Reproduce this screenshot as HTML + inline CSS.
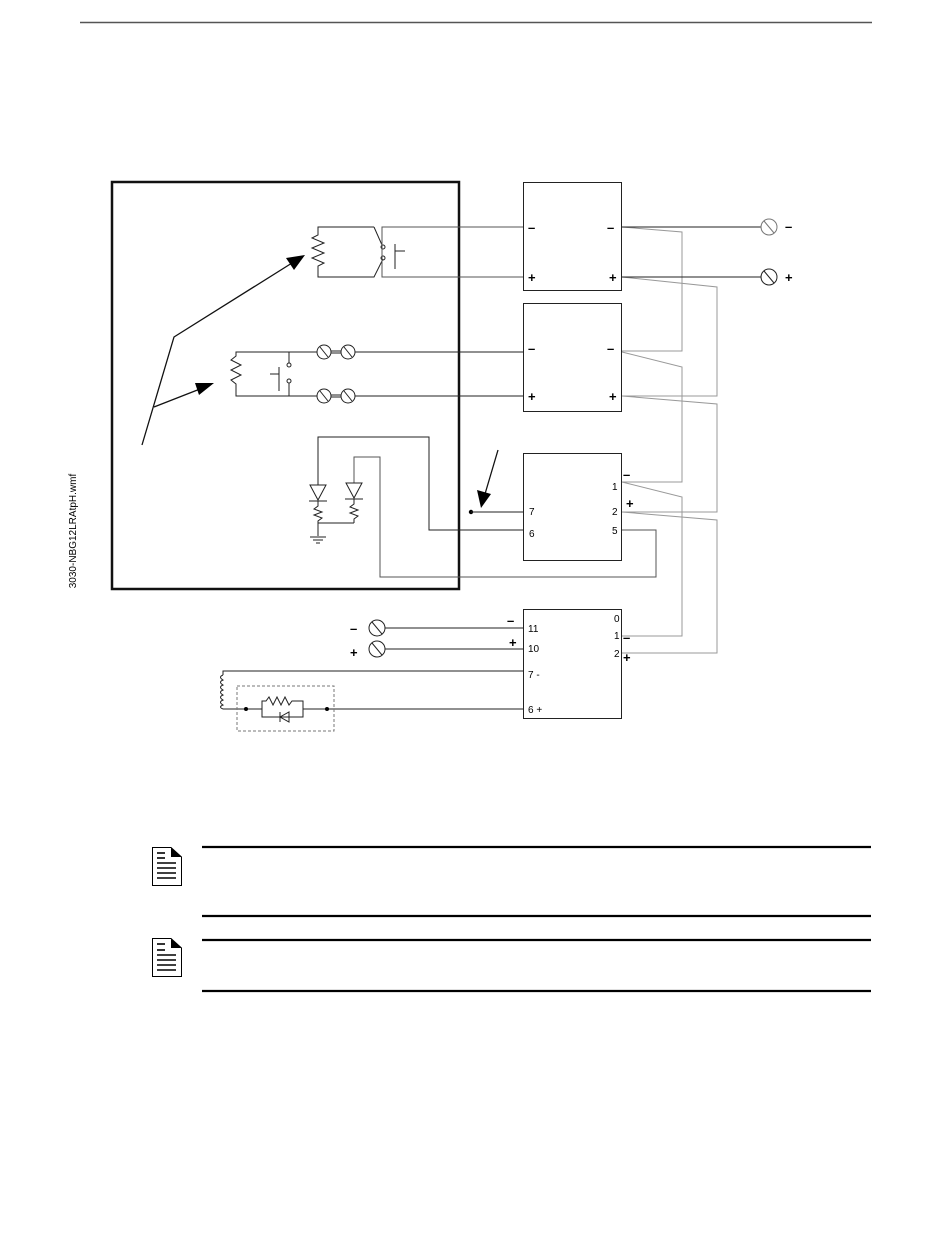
<!DOCTYPE html>
<html><head><meta charset="utf-8"><style>
html,body{margin:0;padding:0;background:#fff;}
svg{display:block;}
text{font-family:"Liberation Sans",sans-serif;fill:#000;}
</style></head><body>
<svg width="950" height="1254" viewBox="0 0 950 1254" xmlns="http://www.w3.org/2000/svg">
<line x1="80" y1="22.5" x2="872" y2="22.5" stroke="#555" stroke-width="1.5"/>
<text x="0" y="0" font-size="10" transform="translate(76,531) rotate(-90)" text-anchor="middle">3030-NBG12LRAtpH.wmf</text>

<!-- outer box -->
<rect x="112" y="182" width="347" height="407" fill="none" stroke="#111" stroke-width="2.5"/>

<g fill="none" stroke="#222" stroke-width="1">
<!-- relay circuit -->
<polyline points="374,227 318,227 318,235 312,238 324,243 312,248 324,253 312,258 324,263 318,266 318,277 374,277 383,259"/>
<line x1="374" y1="227" x2="382" y2="245"/>
<circle cx="383" cy="247" r="2"/><circle cx="383" cy="258" r="2"/>
<polyline points="523,227 382,227 382,277 523,277" stroke="#555"/>
<line x1="395" y1="244" x2="395" y2="269"/><line x1="395" y1="251" x2="405" y2="251"/>

<!-- second circuit -->
<polyline points="317,352 236,352 236,356 231,360 241,365 231,370 241,375 231,380 236,384 236,396 317,396"/>
<line x1="289" y1="352" x2="289" y2="363"/><line x1="289" y1="383" x2="289" y2="396"/>
<circle cx="289" cy="365" r="2"/><circle cx="289" cy="381" r="2"/>
<line x1="279" y1="367" x2="279" y2="391"/><line x1="270" y1="374" x2="279" y2="374"/>
<g>
<circle cx="324" cy="352" r="7"/><circle cx="348" cy="352" r="7"/>
<line x1="320" y1="347" x2="328" y2="357"/><line x1="344" y1="347" x2="352" y2="357"/>
<line x1="331" y1="351" x2="341" y2="351"/><line x1="331" y1="353" x2="341" y2="353"/>
<circle cx="324" cy="396" r="7"/><circle cx="348" cy="396" r="7"/>
<line x1="320" y1="391" x2="328" y2="401"/><line x1="344" y1="391" x2="352" y2="401"/>
<line x1="331" y1="395" x2="341" y2="395"/><line x1="331" y1="397" x2="341" y2="397"/>
</g>
<line x1="355" y1="352" x2="523" y2="352"/><line x1="355" y1="396" x2="523" y2="396"/>

<!-- LED circuit -->
<polyline points="318,485 318,437 429,437 429,530 523,530"/>
<polygon points="310,485 326,485 318,500"/><line x1="309" y1="501" x2="327" y2="501"/>
<polyline points="318,501 318,506 314,509 322,512 314,515 322,518 318,521 318,536"/>
<line x1="318" y1="523" x2="354" y2="523"/>
<line x1="310" y1="537" x2="326" y2="537"/><line x1="313" y1="540" x2="323" y2="540"/><line x1="316" y1="543" x2="320" y2="543"/>
<polyline points="354,483 354,457 380,457 380,577 656,577 656,530 622,530" stroke="#555"/>
<polygon points="346,483 362,483 354,498"/><line x1="345" y1="499" x2="363" y2="499"/>
<polyline points="354,499 354,504 350,507 358,510 350,513 358,516 354,519 354,523"/>
</g>

<!-- arrows -->
<g stroke="#111" stroke-width="1.3" fill="none">
<polyline points="142,445 174,337 292,263"/>
<line x1="154" y1="407" x2="200" y2="389"/>
<line x1="498" y1="450" x2="485" y2="494"/>
</g>
<polygon points="305,255 286,258 294,270" fill="#000"/>
<polygon points="214,383 195,383 199,395" fill="#000"/>
<polygon points="481,508 477,490 491,494" fill="#000"/>
<circle cx="471" cy="512" r="2.2" fill="#000"/>
<line x1="471" y1="512" x2="523" y2="512" stroke="#222"/>

<!-- boxes -->
<g fill="none" stroke="#222" stroke-width="1">
<rect x="523.5" y="182.5" width="98" height="108"/>
<rect x="523.5" y="303.5" width="98" height="108"/>
<rect x="523.5" y="453.5" width="98" height="107"/>
<rect x="523.5" y="609.5" width="98" height="109"/>
</g>

<!-- gray interconnect -->
<g fill="none" stroke="#999" stroke-width="1">
<polyline points="622,227 682,232 682,351 622,351"/>
<polyline points="622,352 682,367 682,482 622,482"/>
<polyline points="622,482 682,497 682,636 622,636"/>
<polyline points="622,277 717,287 717,396 622,396"/>
<polyline points="622,396 717,404 717,512 622,512"/>
<polyline points="622,512 717,520 717,653 622,653"/>
</g>

<!-- box1 right terminals -->
<g stroke="#222" fill="none">
<line x1="622" y1="227" x2="761" y2="227"/><line x1="622" y1="277" x2="761" y2="277"/>
<circle cx="769" cy="227" r="8" stroke="#777"/><line x1="764" y1="221" x2="774" y2="233" stroke="#777"/>
<circle cx="769" cy="277" r="8"/><line x1="764" y1="271" x2="774" y2="283"/>
</g>
<g font-size="13" font-weight="bold">
<text x="785" y="231">–</text><text x="785" y="282">+</text>
<text x="528" y="232" fill="#555">–</text><text x="607" y="232">–</text>
<text x="528" y="282">+</text><text x="609" y="282">+</text>
<text x="528" y="353" fill="#777">–</text><text x="607" y="353" fill="#777">–</text>
<text x="528" y="401">+</text><text x="609" y="401">+</text>
<text x="623" y="479">–</text><text x="626" y="508">+</text>
<text x="623" y="642">–</text><text x="623" y="662">+</text>
<text x="507" y="625">–</text><text x="509" y="647">+</text>
<text x="350" y="633">–</text><text x="350" y="657">+</text>
</g>
<g font-size="10">
<text x="612" y="490">1</text><text x="612" y="515">2</text><text x="612" y="534">5</text>
<text x="529" y="515">7</text><text x="529" y="537">6</text>
<text x="614" y="622">0</text><text x="614" y="639">1</text><text x="614" y="657">2</text>
<text x="528" y="632">11</text><text x="528" y="652">10</text>
<text x="528" y="678">7 -</text><text x="528" y="713">6 +</text>
</g>

<!-- box4 left -->
<g stroke="#222" fill="none">
<circle cx="377" cy="628" r="8"/><line x1="372" y1="622" x2="382" y2="634"/>
<circle cx="377" cy="649" r="8"/><line x1="372" y1="643" x2="382" y2="655"/>
<line x1="385" y1="628" x2="523" y2="628"/><line x1="385" y1="649" x2="523" y2="649"/>
<polyline points="523,671 223,671 223,675"/>
<path d="M223,675 q-5,2 0,5 q-5,2 0,5 q-5,2 0,5 q-5,2 0,5 q-5,2 0,5 q-5,2 0,5 q-5,2 0,4"/>
<polyline points="223,709 262,709"/>
<polyline points="262,709 262,701 266,701 269,697 273,705 277,697 281,705 285,697 289,705 292,701 303,701 303,717 262,717 262,709"/>
<line x1="303" y1="709" x2="523" y2="709"/>
<polygon points="289,712 289,722 280,717" fill="none"/><line x1="280" y1="712" x2="280" y2="722"/>
<rect x="237" y="686" width="97" height="45" stroke="#777" stroke-dasharray="3,2"/>
</g>
<circle cx="246" cy="709" r="2" fill="#000"/><circle cx="327" cy="709" r="2" fill="#000"/>

<!-- notes -->
<g stroke="#000" stroke-width="2.2">
<line x1="202" y1="847" x2="871" y2="847"/>
<line x1="202" y1="916" x2="871" y2="916"/>
<line x1="202" y1="940" x2="871" y2="940"/>
<line x1="202" y1="991" x2="871" y2="991"/>
</g>
<g>
<path d="M152.5,847.5 H171 L181.5,857 V885.5 H152.5 Z" fill="#fff" stroke="#000"/>
<path d="M171,847.5 L181.5,857 H171 Z" fill="#000"/>
<g stroke="#000" stroke-width="1.6">
<line x1="157" y1="853" x2="165" y2="853"/><line x1="157" y1="858" x2="165" y2="858"/>
<line x1="157" y1="863" x2="176" y2="863"/><line x1="157" y1="868" x2="176" y2="868"/>
<line x1="157" y1="873" x2="176" y2="873"/><line x1="157" y1="878" x2="176" y2="878"/>
</g>
<path d="M152.5,938.5 H171 L181.5,948 V976.5 H152.5 Z" fill="#fff" stroke="#000"/>
<path d="M171,938.5 L181.5,948 H171 Z" fill="#000"/>
<g stroke="#000" stroke-width="1.6">
<line x1="157" y1="944" x2="165" y2="944"/><line x1="157" y1="950" x2="165" y2="950"/>
<line x1="157" y1="955" x2="176" y2="955"/><line x1="157" y1="960" x2="176" y2="960"/>
<line x1="157" y1="965" x2="176" y2="965"/><line x1="157" y1="970" x2="176" y2="970"/>
</g>
</g>
</svg>
</body></html>
